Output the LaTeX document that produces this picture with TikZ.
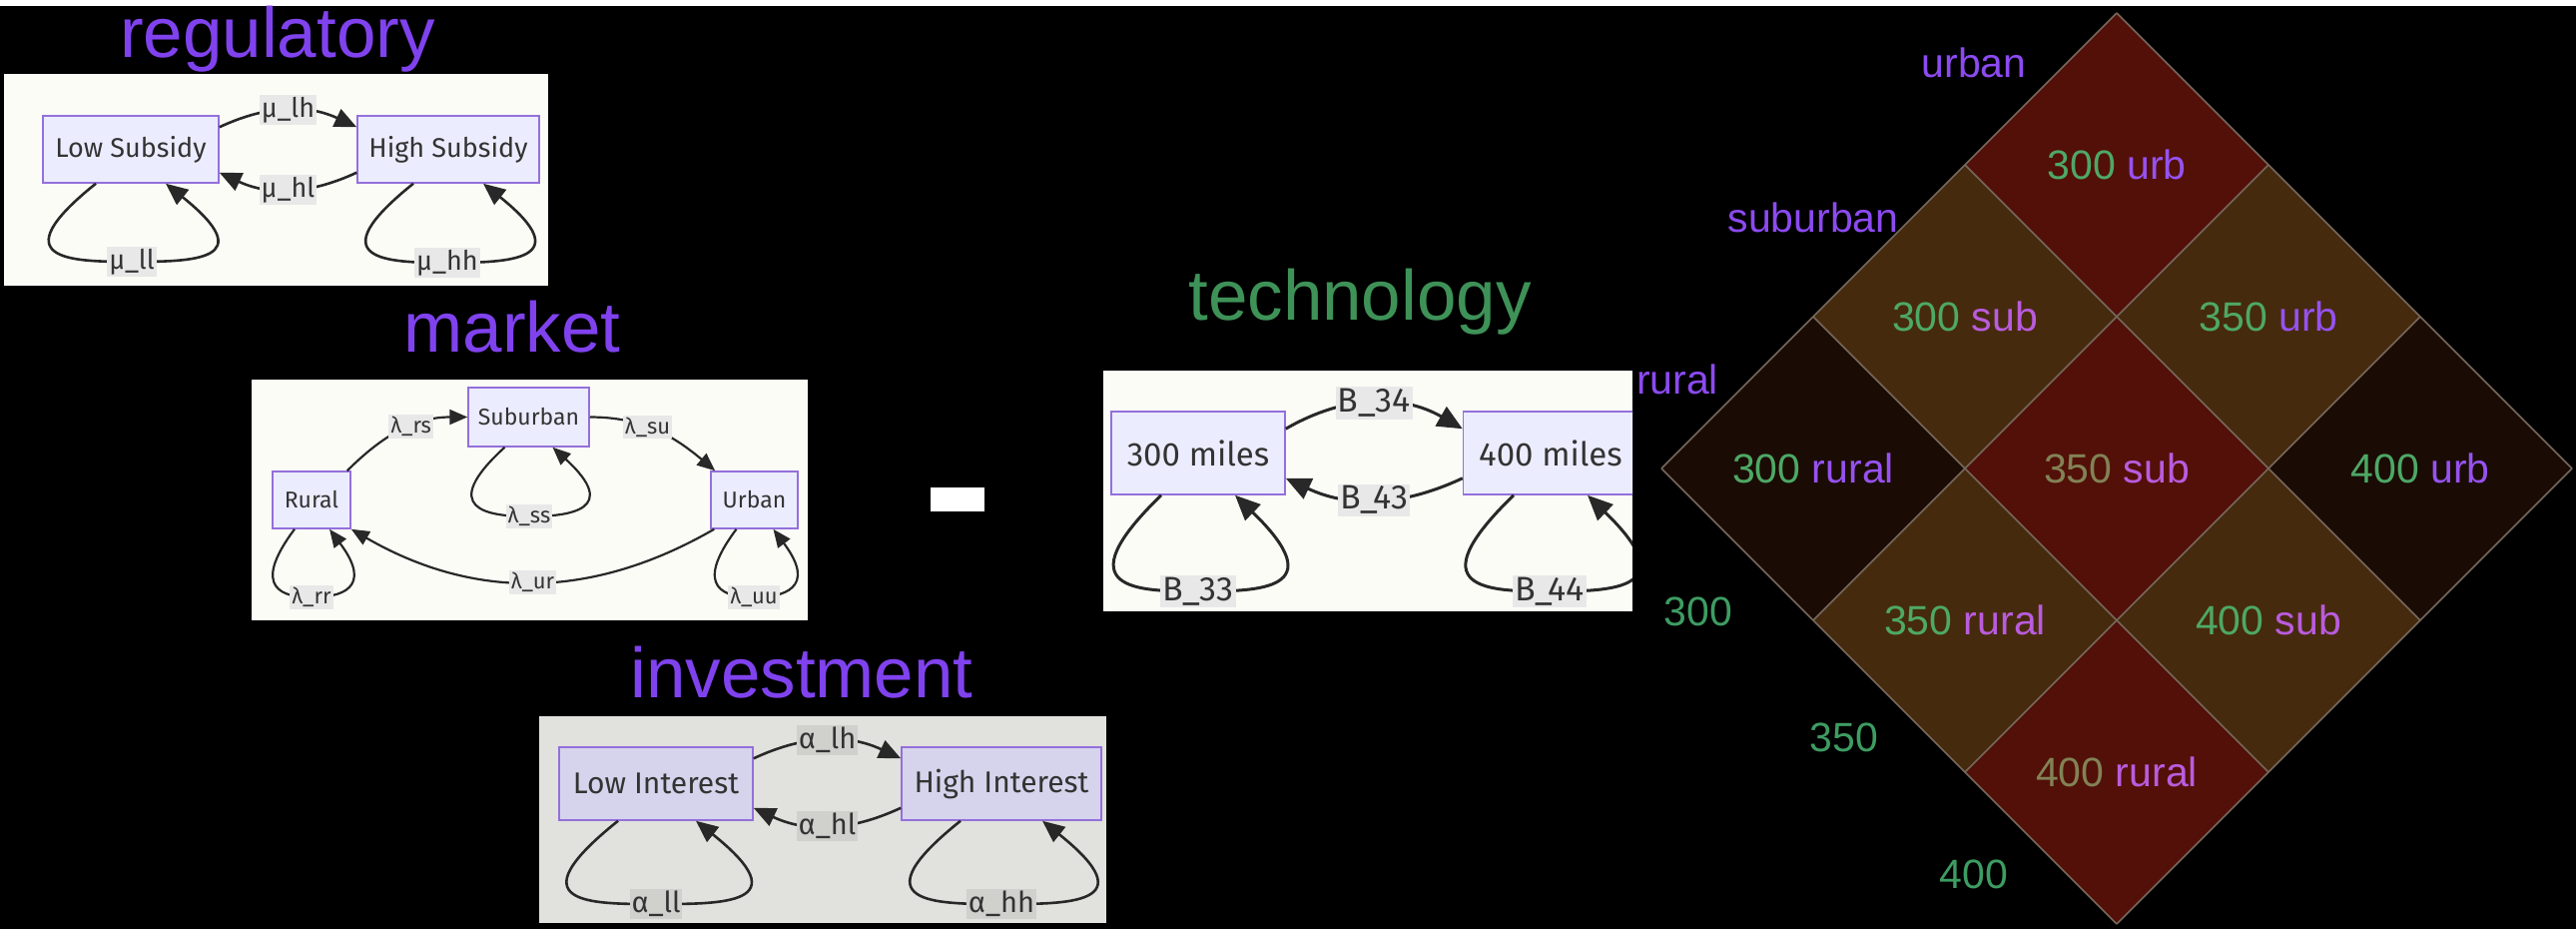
\documentclass[tikz,border=0pt]{standalone}
\usepackage{fontspec}
\setmainfont{Liberation Sans}
\newfontfamily\mmfont{Fira Sans}
\usetikzlibrary{arrows.meta}
\definecolor{headpurple}{RGB}{128,66,238}
\definecolor{headgreen}{RGB}{62,146,88}
\definecolor{sidepurple}{RGB}{140,74,240}
\definecolor{sidegreen}{RGB}{62,156,98}
\definecolor{numgreen}{RGB}{78,168,102}
\definecolor{numolive}{RGB}{130,130,86}
\definecolor{wurb}{RGB}{150,82,240}
\definecolor{wsub}{RGB}{186,92,222}
\definecolor{cell0}{RGB}{82,16,8}
\definecolor{cell1}{RGB}{70,42,14}
\definecolor{cell2}{RGB}{26,12,4}
\definecolor{gridcol}{RGB}{118,104,92}
\definecolor{panelfill}{RGB}{252,252,247}
\definecolor{invfill}{RGB}{225,225,221}
\definecolor{nodefill}{RGB}{236,236,255}
\definecolor{invnode}{RGB}{214,212,236}
\definecolor{nodeborder}{RGB}{147,112,219}
\definecolor{lblfill}{RGB}{232,232,232}
\definecolor{invlbl}{RGB}{208,208,205}
\definecolor{mmtext}{RGB}{51,51,51}
\definecolor{mmline}{RGB}{40,40,40}
\tikzset{
  stbox/.style = {rectangle, draw=nodeborder, fill=nodefill, line width=1.5pt,
    text=mmtext, inner sep=0pt, align=center},% mermaid state
  elbl/.style = {fill=lblfill, text=mmtext, inner sep=2pt},% edge label
  trans/.style = {draw=mmline, line width=2.6pt,
    -{Triangle[length=22pt,width=19pt]}},
  heading/.style = {anchor=base, font=\fontsize{71}{80}\selectfont},
  side/.style = {font=\fontsize{41}{46}\selectfont, inner sep=0pt},
  celltxt/.style = {font=\fontsize{41}{46}\selectfont, inner sep=0pt}
}

\begin{document}
\begin{tikzpicture}[x=1pt,y=1pt]
\useasboundingbox (0,0) rectangle (2580,-930);
\fill[black] (0,-6) rectangle (2580,-930);
\fill[white] (0,0) rectangle (2580,-6);

% headings
\node[heading, text=headpurple] (reg) at (278,-57) {regulatory};
\node[heading, text=headpurple] (mkt) at (513,-352) {market};
\node[heading, text=headpurple] (inv) at (803,-698) {investment};
\node[heading, text=headgreen] (tec) at (1362,-320) {technology};

% regulatory
\fill[panelfill] (4,-74) rectangle (549,-286);
\begin{scope}[stbox/.append style={font=\mmfont\fontsize{27}{30}\selectfont, minimum height=67pt},
  elbl/.append style={font=\mmfont\fontsize{27}{30}\selectfont}]
\node[stbox, minimum width=176pt] (lows) at (131,-149.5) {Low Subsidy};
\node[stbox, minimum width=182pt] (highs) at (449,-149.5) {High Subsidy};
\draw[trans] ([yshift=-12pt]lows.north east) to[out=25,in=155] node[elbl] (mlh) {μ\_lh} ([yshift=-12pt]highs.north west);
\draw[trans] ([yshift=11pt]highs.south west) to[out=205,in=-25] node[elbl] (mhl) {μ\_hl} ([yshift=11pt]lows.south east);
\draw[trans] ([xshift=-35pt]lows.south) .. controls +(-96,-77) and +(-62,0) .. (132,-262) node[elbl] (mll) {μ\_ll}
  .. controls +(62,0) and +(96,-77) .. ([xshift=35pt]lows.south);
\draw[trans] ([xshift=-35pt]highs.south) .. controls +(-96,-77) and +(-62,0) .. (448,-263) node[elbl] (mhh) {μ\_hh}
  .. controls +(62,0) and +(96,-77) .. ([xshift=35pt]highs.south);
\end{scope}

% market
\fill[panelfill] (252,-380) rectangle (809,-621);
\begin{scope}[stbox/.append style={font=\mmfont\fontsize{23}{26}\selectfont},
  elbl/.append style={font=\mmfont\fontsize{22}{25}\selectfont},
  trans/.append style={line width=2.2pt, -{Triangle[length=18pt,width=15pt]}}]
\node[stbox, minimum width=121pt, minimum height=59pt] (sub) at (529.5,-417.5) {Suburban};
\node[stbox, minimum width=78pt, minimum height=57pt] (rur) at (312,-500.5) {Rural};
\node[stbox, minimum width=87pt, minimum height=57pt] (urb) at (755.5,-500.5) {Urban};
\draw[trans] ([xshift=-4pt]rur.north east) to[out=45,in=180] node[elbl,pos=0.58] (lrs) {λ\_rs} (sub.west);
\draw[trans] (sub.east) to[out=0,in=140] node[elbl,pos=0.42] (lsu) {λ\_su} ([xshift=5pt]urb.north west);
\draw[trans] ([xshift=4pt]urb.south west) to[out=210,in=-30] node[elbl] (lur) {λ\_ur} (rur.south east);
\draw[trans] ([xshift=-24pt]sub.south) .. controls +(-68,-62) and +(-42,0) .. (530,-517) node[elbl] (lss) {λ\_ss}
  .. controls +(42,0) and +(68,-62) .. ([xshift=24pt]sub.south);
\draw[trans] ([xshift=-17pt]rur.south) .. controls +(-45,-60) and +(-28,0) .. (312,-598) node[elbl] (lrr) {λ\_rr}
  .. controls +(28,0) and +(45,-60) .. ([xshift=18pt]rur.south);
\draw[trans] ([xshift=-18pt]urb.south) .. controls +(-45,-60) and +(-28,0) .. (755,-598) node[elbl] (luu) {λ\_uu}
  .. controls +(28,0) and +(45,-60) .. ([xshift=19pt]urb.south);
\end{scope}

% investment
\fill[invfill] (540,-717) rectangle (1108,-924);
\begin{scope}[stbox/.append style={fill=invnode, font=\mmfont\fontsize{30}{34}\selectfont, minimum height=73pt},
  elbl/.append style={fill=invlbl, font=\mmfont\fontsize{29}{32}\selectfont}]
\node[stbox, minimum width=194pt] (lowi) at (657,-784.5) {Low Interest};
\node[stbox, minimum width=200pt] (highi) at (1003,-784.5) {High Interest};
\draw[trans] ([yshift=-12pt]lowi.north east) to[out=25,in=155] node[elbl] (alh) {α\_lh} ([yshift=-12pt]highi.north west);
\draw[trans] ([yshift=13pt]highi.south west) to[out=205,in=-25] node[elbl] (ahl) {α\_hl} ([yshift=13pt]lowi.south east);
\draw[trans] ([xshift=-38pt]lowi.south) .. controls +(-105,-84) and +(-66,0) .. (657,-905) node[elbl] (all) {α\_ll}
  .. controls +(66,0) and +(105,-84) .. ([xshift=40pt]lowi.south);
\draw[trans] ([xshift=-41pt]highi.south) .. controls +(-105,-84) and +(-66,0) .. (1003,-905) node[elbl] (ahh) {α\_hh}
  .. controls +(66,0) and +(105,-84) .. ([xshift=41pt]highi.south);
\end{scope}

% technology
\begin{scope}[stbox/.append style={font=\mmfont\fontsize{33}{37}\selectfont, minimum height=83pt},
  elbl/.append style={font=\mmfont\fontsize{34}{37}\selectfont},
  trans/.append style={line width=3pt, -{Triangle[length=25pt,width=22pt]}}]
\clip (1105,-371) rectangle (1635,-612);
\fill[panelfill] (1105,-371) rectangle (1635,-612);
\node[stbox, minimum width=174pt] (m300) at (1200,-453.5) {300 miles};
\node[stbox, minimum width=175pt] (m400) at (1553,-453.5) {400 miles};
\draw[trans] ([yshift=-18pt]m300.north east) to[out=30,in=150] node[elbl] (b34) {B\_34} ([yshift=-18pt]m400.north west);
\draw[trans] ([yshift=17pt]m400.south west) to[out=205,in=-25] node[elbl] (b43) {B\_43} ([yshift=17pt]m300.south east);
\draw[trans] ([xshift=-37pt]m300.south) .. controls +(-98,-95) and +(-62,0) .. (1200,-592) node[elbl] (b33) {B\_33}
  .. controls +(62,0) and +(98,-95) .. ([xshift=37pt]m300.south);
\draw[trans] ([xshift=-37pt]m400.south) .. controls +(-98,-95) and +(-62,0) .. (1552,-592) node[elbl] (b44) {B\_44}
  .. controls +(62,0) and +(98,-95) .. ([xshift=37pt]m400.south);
\end{scope}

% dash
\node[fill=white, inner sep=0pt, minimum width=54pt, minimum height=24pt] (dash) at (959,-500) {};

% diamond of cells
\foreach \i in {0,1,2}{
  \foreach \j in {0,1,2}{
    \pgfmathtruncatemacro{\d}{abs(\i-\j)}
    \fill[fill=cell\d] (2120-152*\i+152*\j,-13-152*\i-152*\j) -- ++(-152,-152) -- ++(152,-152) -- ++(152,152) -- cycle;
  }
}
\foreach \k in {0,...,3}{
  \draw[gridcol, line width=1.5pt] (2120-152*\k,-13-152*\k) -- ++(456,-456);
  \draw[gridcol, line width=1.5pt] (2120+152*\k,-13-152*\k) -- ++(-456,-456);
}
\foreach \i/\j/\n/\w/\nc/\wc in {0/0/300/urb/numgreen/wurb, 1/0/300/sub/numgreen/wsub,
  2/0/300/rural/numgreen/wurb, 0/1/350/urb/numgreen/wurb, 1/1/350/sub/numolive/wsub,
  2/1/350/rural/numgreen/wsub, 0/2/400/urb/numgreen/wurb, 1/2/400/sub/numgreen/wsub,
  2/2/400/rural/numolive/wsub}
  \node[celltxt] (c\i\j) at (2120+152*\j-152*\i,-165-152*\i-152*\j) {\textcolor{\nc}{\n} \textcolor{\wc}{\w}};

% axis labels
\node[side, text=sidepurple] (lurb) at (1977,-63) {urban};
\node[side, text=sidepurple] (lsubb) at (1816,-218) {suburban};
\node[side, text=sidepurple] (lrur) at (1680,-380) {rural};
\node[side, text=sidegreen] (l300) at (1701,-612) {300};
\node[side, text=sidegreen] (l350) at (1847,-738) {350};
\node[side, text=sidegreen] (l400) at (1977,-875) {400};
\end{tikzpicture}
\end{document}
